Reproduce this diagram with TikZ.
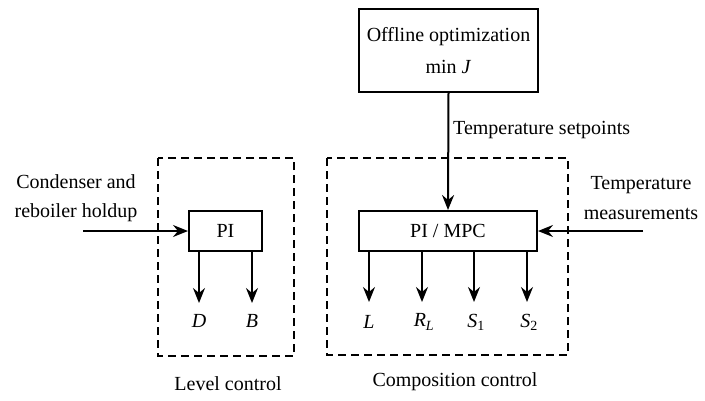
\documentclass[tikz,border=0pt]{standalone}
\usepackage{fontspec}
\setmainfont{Liberation Serif}
\usetikzlibrary{arrows.meta}
\begin{document}
\begin{tikzpicture}[x=1pt,y=-1pt,
  every node/.style={font=\fontsize{20}{24}\selectfont, inner sep=0pt},
  block/.style={draw, line width=2pt, minimum width=#1, minimum height=40pt},
  group/.style={draw, line width=2pt, dash pattern=on 8pt off 5pt},
  flow/.style={line width=2pt, -{Stealth[length=15pt,width=12pt,inset=5pt]}},
  lbl/.style={align=center}]
\useasboundingbox (0,0) rectangle (705,400);

% dashed group frames
\draw[group] (158,158) rectangle (294,356);
\draw[group] (327,158) rectangle (568,355);

% blocks
\node[draw, line width=2pt, minimum width=179pt, minimum height=83pt, align=center,
      font=\fontsize{20}{32}\selectfont] (opt) at (448.5,50.5)
      {Offline optimization\\ min \textit{J}};
\node[block=178pt] (mpc) at (448,231) {PI / MPC};
\node[block=73pt] (pi) at (225.5,231) {PI};

% inputs
\coordinate (cin) at (83,231);
\coordinate (tin) at (643,231);
\node[lbl, font=\fontsize{20}{29}\selectfont] (cond) at (76,198) {Condenser and\\reboiler holdup};
\node[lbl, font=\fontsize{20}{30}\selectfont] (meas) at (641,198) {Temperature\\measurements};
\draw[flow] (cin) -- (pi.west);
\draw[flow] (tin) -- (mpc.east);
\draw[flow] (opt.south) -- (mpc.north);
\node[anchor=west] (sp) at (453,130) {Temperature setpoints};

% level control outputs
\coordinate (dend) at (199,303);
\coordinate (bend) at (252,303);
\draw[flow] (pi.south -| dend) -- (dend);
\draw[flow] (pi.south -| bend) -- (bend);
\node (D) at (199,321) {\textit{D}};
\node (B) at (252,321) {\textit{B}};

% composition control outputs
\coordinate (lend) at (369,302);
\coordinate (rend) at (422,302);
\coordinate (s1end) at (474,302);
\coordinate (s2end) at (527,302);
\draw[flow] (mpc.south -| lend) -- (lend);
\draw[flow] (mpc.south -| rend) -- (rend);
\draw[flow] (mpc.south -| s1end) -- (s1end);
\draw[flow] (mpc.south -| s2end) -- (s2end);
\node (L) at (369,322) {\textit{L}};
\node (RL) at (424,322) {\textit{R}\textsubscript{\textit{L}}};
\node (S1) at (476,322) {\textit{S}\textsubscript{1}};
\node (S2) at (529,322) {\textit{S}\textsubscript{2}};

% group captions
\node (lvl) at (228,384) {Level control};
\node (cmp) at (455,382) {Composition control};
\end{tikzpicture}
\end{document}
